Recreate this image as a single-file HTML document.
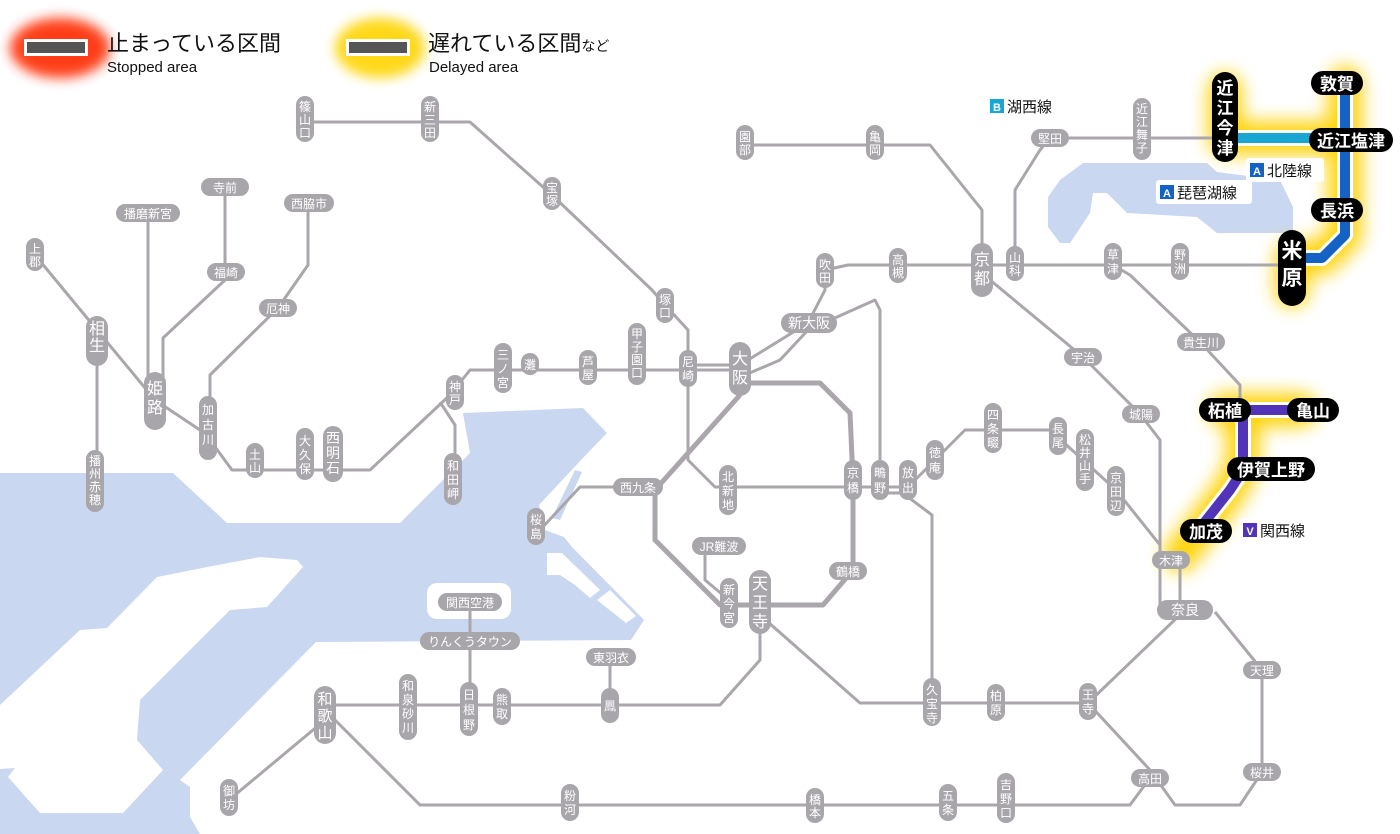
<!DOCTYPE html>
<html><head><meta charset="utf-8"><style>
html,body{margin:0;padding:0;background:#fff;}
svg{display:block;font-family:"Liberation Sans","Noto Sans CJK JP",sans-serif;}
.ln{fill:none;stroke:#aaa6ac;stroke-width:3;stroke-linejoin:round;}
.lt{fill:none;stroke:#aaa6ac;stroke-width:5;stroke-linejoin:round;}
.p{fill:#a9a6ab;}
.t{fill:#fff;font-size:12px;text-anchor:middle;}
.T{fill:#fff;font-size:16px;text-anchor:middle;}
.b{fill:#000;}
.bt{fill:#fff;font-size:17px;font-weight:bold;text-anchor:middle;}
.lg{font-size:15px;fill:#111;}
</style></head><body>
<svg width="1400" height="834" viewBox="0 0 1400 834" xmlns="http://www.w3.org/2000/svg">
<defs>
<filter id="gl" x="-50%" y="-50%" width="200%" height="200%"><feGaussianBlur stdDeviation="9"/></filter>
<filter id="gs" x="-50%" y="-50%" width="200%" height="200%"><feGaussianBlur stdDeviation="6"/></filter>
</defs>
<!-- sea -->
<polygon fill="#cad7f0" points="0,473 173,473 227,523 400,523 470,453 463,413 583,408 607,433 581,460 539,505 545,530 564,537 572,547 644,620 631,640 316,642 180,780 190,787 190,817 200,834 0,834"/>
<polygon fill="#fff" points="0,705 80,630 107,628 157,577 207,567 260,557 297,560 303,567 267,607 230,610 140,700 137,740 163,770 123,813 40,813 8,777 15,768 0,769"/>
<rect x="427" y="583" width="84" height="36" rx="10" fill="#fff"/>
<polygon fill="#fff" points="547,553 562,553 600,590 590,598 575,585 560,575 547,575"/>
<polygon fill="#fff" points="597,600 610,590 636,616 626,623"/>
<polygon fill="#cad7f0" points="575,470 582,472 560,520 552,518"/>
<!-- lake -->
<polygon fill="#cad7f0" points="1083,163 1207,163 1217,172 1280,180 1293,207 1293,233 1217,233 1197,217 1127,213 1107,193 1093,193 1090,213 1070,243 1060,243 1048,227 1048,197 1060,180"/>

<!-- legend -->
<ellipse cx="60" cy="48" rx="50" ry="30" fill="#ff2a00" filter="url(#gs)" opacity="0.9"/>
<rect x="24" y="39" width="64" height="17" fill="#fff"/><rect x="27" y="42" width="58" height="11" fill="#555"/>
<text x="107" y="51" style="font-size:22px;fill:#111">止まっている区間</text>
<text x="107" y="72" class="lg">Stopped area</text>
<ellipse cx="380" cy="48" rx="45" ry="30" fill="#ffd400" filter="url(#gs)" opacity="0.9"/>
<rect x="346" y="39" width="64" height="17" fill="#fff"/><rect x="349" y="42" width="58" height="11" fill="#555"/>
<text x="428" y="51" style="font-size:22px;fill:#111">遅れている区間<tspan style="font-size:14px">など</tspan></text>
<text x="429" y="72" class="lg">Delayed area</text>

<!-- yellow glow -->
<g filter="url(#gl)" stroke="#ffd200" fill="none" stroke-width="34" stroke-linejoin="round" stroke-linecap="round" opacity="0.95">
<polyline points="1225,90 1225,138 1345,138"/>
<polyline points="1345,83 1345,235 1322,258 1292,258 1292,290"/>
<polyline points="1225,410 1300,410"/>
<polyline points="1243,410 1243,465 1230,490 1200,530 1180,555"/>
</g>

<!-- grey lines -->
<polyline class="ln" points="305,122 470,122 552,195 652,290 665,305 688,330 688,368"/>
<polyline class="ln" points="35,255 97,330 155,400 200,430 210,440 232,470 370,470 450,395 470,370 740,370"/>
<polyline class="ln" points="97,340 97,470"/>
<polyline class="ln" points="148,213 148,395"/>
<polyline class="ln" points="225,187 225,280 163,338 163,395"/>
<polyline class="ln" points="308,203 308,265 278,308 210,375 210,420"/>
<polyline class="ln" points="440,402 455,425 455,470"/>
<polyline class="ln" points="688,365 740,365"/>
<polyline class="ln" points="740,365 808,323 825,290 825,270 848,265 1290,265"/>
<polyline class="ln" points="745,375 780,360 808,330 875,300 880,310 880,487"/>
<polyline class="lt" points="740,383 820,383 850,413 853,480 853,570 823,605 720,605 655,540 655,490 740,395"/>
<polyline class="ln" points="688,385 688,460 715,487 908,487"/>
<polyline class="ln" points="880,493 908,493"/>
<polyline class="ln" points="908,487 935,460 965,430 1050,430 1116,490 1160,545 1160,560"/>
<polyline class="ln" points="908,497 932,515 932,700"/>
<polyline class="ln" points="637,487 580,487 540,530"/>
<polyline class="ln" points="705,546 705,580 729,600"/>
<polyline class="ln" points="760,615 860,703 1088,703 1185,610"/>
<polyline class="ln" points="1088,703 1150,770 1175,805 1240,805 1262,772 1262,670 1215,612"/>
<polyline class="ln" points="760,630 760,660 720,705 325,705"/>
<polyline class="ln" points="470,602 470,700"/>
<polyline class="ln" points="610,657 610,700"/>
<polyline class="ln" points="325,720 235,795"/>
<polyline class="ln" points="335,720 420,805 1130,805 1150,778"/>
<polyline class="ln" points="982,265 982,210 930,145 745,145"/>
<polyline class="ln" points="990,280 1083,357 1140,414 1160,440 1160,610"/>
<polyline class="ln" points="1180,555 1180,600"/>
<polyline class="ln" points="1113,265 1130,275 1200,342 1240,385 1240,410"/>
<polyline class="ln" points="1015,265 1015,190 1040,150 1050,138 1225,138"/>

<!-- coloured lines -->
<polyline points="1225,138 1345,138" stroke="#fff" stroke-width="16" fill="none"/>
<polyline points="1225,138 1345,138" stroke="#1aa6d2" stroke-width="10" fill="none"/>
<polyline points="1345,83 1345,235 1322,258 1292,258" stroke="#fff" stroke-width="16" fill="none" stroke-linejoin="round"/>
<polyline points="1345,83 1345,235 1322,258 1292,258" stroke="#1462c4" stroke-width="10" fill="none" stroke-linejoin="round"/>
<polyline points="1225,410 1300,410" stroke="#fff" stroke-width="16" fill="none"/>
<polyline points="1243,410 1243,470 1230,490 1200,528" stroke="#fff" stroke-width="16" fill="none" stroke-linejoin="round"/>
<polyline points="1225,410 1300,410" stroke="#5234b8" stroke-width="10" fill="none"/>
<polyline points="1243,410 1243,470 1230,490 1200,528" stroke="#5234b8" stroke-width="10" fill="none" stroke-linejoin="round"/>

<!-- horizontal grey stations -->
<g>
<rect class="p" x="201" y="178" width="48" height="18" rx="9"/><text class="t" x="225" y="192">寺前</text>
<rect class="p" x="116" y="204" width="64" height="18" rx="9"/><text class="t" x="148" y="218">播磨新宮</text>
<rect class="p" x="284" y="194" width="50" height="18" rx="9"/><text class="t" x="309" y="208">西脇市</text>
<rect class="p" x="207" y="263" width="38" height="18" rx="9"/><text class="t" x="226" y="277">福崎</text>
<rect class="p" x="259" y="299" width="38" height="18" rx="9"/><text class="t" x="278" y="313">厄神</text>
<rect class="p" x="781" y="313" width="56" height="20" rx="10"/><text class="t" x="809" y="328" style="font-size:14px">新大阪</text>
<rect class="p" x="1064" y="348" width="38" height="18" rx="9"/><text class="t" x="1083" y="362">宇治</text>
<rect class="p" x="1177" y="333" width="48" height="18" rx="9"/><text class="t" x="1201" y="347">貴生川</text>
<rect class="p" x="1122" y="405" width="38" height="18" rx="9"/><text class="t" x="1141" y="419">城陽</text>
<rect class="p" x="1031" y="129" width="38" height="18" rx="9"/><text class="t" x="1050" y="143">堅田</text>
<rect class="p" x="613" y="478" width="50" height="18" rx="9"/><text class="t" x="638" y="492">西九条</text>
<rect class="p" x="692" y="537" width="54" height="18" rx="9"/><text class="t" x="719" y="551">JR難波</text>
<rect class="p" x="829" y="562" width="38" height="18" rx="9"/><text class="t" x="848" y="576">鶴橋</text>
<rect class="p" x="1152" y="551" width="38" height="18" rx="9"/><text class="t" x="1171" y="565">木津</text>
<rect class="p" x="1157" y="600" width="56" height="20" rx="10"/><text class="t" x="1185" y="615" style="font-size:14px">奈良</text>
<rect class="p" x="438" y="593" width="64" height="18" rx="9"/><text class="t" x="470" y="607">関西空港</text>
<rect class="p" x="420" y="632" width="100" height="18" rx="9"/><text class="t" x="470" y="646">りんくうタウン</text>
<rect class="p" x="586" y="648" width="50" height="18" rx="9"/><text class="t" x="611" y="662">東羽衣</text>
<rect class="p" x="1243" y="661" width="38" height="18" rx="9"/><text class="t" x="1262" y="675">天理</text>
<rect class="p" x="1131" y="769" width="38" height="18" rx="9"/><text class="t" x="1150" y="783">高田</text>
<rect class="p" x="1243" y="763" width="38" height="18" rx="9"/><text class="t" x="1262" y="777">桜井</text>
</g>

<!-- vertical grey stations -->
<g>
<rect class="p" x="296" y="96" width="18" height="46" rx="9"/><text class="t" x="305" y="111">篠<tspan x="305" dy="13">山</tspan><tspan x="305" dy="13">口</tspan></text>
<rect class="p" x="421" y="96" width="18" height="46" rx="9"/><text class="t" x="430" y="111">新<tspan x="430" dy="13">三</tspan><tspan x="430" dy="13">田</tspan></text>
<rect class="p" x="543" y="177" width="18" height="33" rx="9"/><text class="t" x="552" y="192">宝<tspan x="552" dy="13">塚</tspan></text>
<rect class="p" x="26" y="238" width="18" height="33" rx="9"/><text class="t" x="35" y="253">上<tspan x="35" dy="13">郡</tspan></text>
<rect class="p" x="86" y="316" width="22" height="50" rx="11"/><text class="T" x="97" y="334">相<tspan x="97" dy="17">生</tspan></text>
<rect class="p" x="144" y="372" width="22" height="58" rx="11"/><text class="T" x="155" y="394">姫<tspan x="155" dy="19">路</tspan></text>
<rect class="p" x="199" y="396" width="18" height="64" rx="9"/><text class="t" x="208" y="414">加<tspan x="208" dy="15">古</tspan><tspan x="208" dy="15">川</tspan></text>
<rect class="p" x="86" y="450" width="18" height="62" rx="9"/><text class="t" x="95" y="465">播<tspan x="95" dy="13">州</tspan><tspan x="95" dy="13">赤</tspan><tspan x="95" dy="13">穂</tspan></text>
<rect class="p" x="246" y="443" width="18" height="35" rx="9"/><text class="t" x="255" y="459">土<tspan x="255" dy="13">山</tspan></text>
<rect class="p" x="296" y="428" width="18" height="52" rx="9"/><text class="t" x="305" y="445">大<tspan x="305" dy="14">久</tspan><tspan x="305" dy="14">保</tspan></text>
<rect class="p" x="323" y="426" width="20" height="56" rx="10"/><text class="t" x="333" y="443" style="font-size:14px">西<tspan x="333" dy="15">明</tspan><tspan x="333" dy="15">石</tspan></text>
<rect class="p" x="446" y="375" width="18" height="35" rx="9"/><text class="t" x="455" y="391">神<tspan x="455" dy="13">戸</tspan></text>
<rect class="p" x="444" y="453" width="18" height="52" rx="9"/><text class="t" x="453" y="470">和<tspan x="453" dy="14">田</tspan><tspan x="453" dy="14">岬</tspan></text>
<rect class="p" x="494" y="343" width="18" height="50" rx="9"/><text class="t" x="503" y="359">三<tspan x="503" dy="14">ノ</tspan><tspan x="503" dy="14">宮</tspan></text>
<rect class="p" x="521" y="353" width="18" height="22" rx="9"/><text class="t" x="530" y="369">灘</text>
<rect class="p" x="579" y="350" width="18" height="35" rx="9"/><text class="t" x="588" y="366">芦<tspan x="588" dy="13">屋</tspan></text>
<rect class="p" x="628" y="323" width="18" height="62" rx="9"/><text class="t" x="637" y="338">甲<tspan x="637" dy="13">子</tspan><tspan x="637" dy="13">園</tspan><tspan x="637" dy="13">口</tspan></text>
<rect class="p" x="679" y="350" width="18" height="37" rx="9"/><text class="t" x="688" y="366">尼<tspan x="688" dy="14">崎</tspan></text>
<rect class="p" x="656" y="288" width="18" height="35" rx="9"/><text class="t" x="665" y="304">塚<tspan x="665" dy="13">口</tspan></text>
<rect class="p" x="729" y="342" width="22" height="54" rx="11"/><text class="T" x="740" y="364">大<tspan x="740" dy="19">阪</tspan></text>
<rect class="p" x="816" y="253" width="18" height="35" rx="9"/><text class="t" x="825" y="269">吹<tspan x="825" dy="13">田</tspan></text>
<rect class="p" x="889" y="248" width="18" height="35" rx="9"/><text class="t" x="898" y="264">高<tspan x="898" dy="13">槻</tspan></text>
<rect class="p" x="971" y="243" width="22" height="54" rx="11"/><text class="T" x="982" y="265">京<tspan x="982" dy="19">都</tspan></text>
<rect class="p" x="1006" y="246" width="18" height="35" rx="9"/><text class="t" x="1015" y="262">山<tspan x="1015" dy="13">科</tspan></text>
<rect class="p" x="1104" y="243" width="18" height="37" rx="9"/><text class="t" x="1113" y="259">草<tspan x="1113" dy="14">津</tspan></text>
<rect class="p" x="1171" y="243" width="18" height="37" rx="9"/><text class="t" x="1180" y="259">野<tspan x="1180" dy="14">洲</tspan></text>
<rect class="p" x="1133" y="98" width="18" height="62" rx="9"/><text class="t" x="1142" y="113">近<tspan x="1142" dy="13">江</tspan><tspan x="1142" dy="13">舞</tspan><tspan x="1142" dy="13">子</tspan></text>
<rect class="p" x="736" y="125" width="18" height="35" rx="9"/><text class="t" x="745" y="141">園<tspan x="745" dy="13">部</tspan></text>
<rect class="p" x="866" y="125" width="18" height="35" rx="9"/><text class="t" x="875" y="141">亀<tspan x="875" dy="13">岡</tspan></text>
<rect class="p" x="719" y="465" width="18" height="50" rx="9"/><text class="t" x="728" y="481">北<tspan x="728" dy="14">新</tspan><tspan x="728" dy="14">地</tspan></text>
<rect class="p" x="844" y="460" width="18" height="40" rx="9"/><text class="t" x="853" y="477">京<tspan x="853" dy="15">橋</tspan></text>
<rect class="p" x="871" y="460" width="18" height="40" rx="9"/><text class="t" x="880" y="477">鴫<tspan x="880" dy="15">野</tspan></text>
<rect class="p" x="899" y="460" width="18" height="40" rx="9"/><text class="t" x="908" y="477">放<tspan x="908" dy="15">出</tspan></text>
<rect class="p" x="926" y="440" width="18" height="40" rx="9"/><text class="t" x="935" y="457">徳<tspan x="935" dy="15">庵</tspan></text>
<rect class="p" x="984" y="403" width="18" height="50" rx="9"/><text class="t" x="993" y="419">四<tspan x="993" dy="14">条</tspan><tspan x="993" dy="14">畷</tspan></text>
<rect class="p" x="1049" y="417" width="18" height="38" rx="9"/><text class="t" x="1058" y="433">長<tspan x="1058" dy="14">尾</tspan></text>
<rect class="p" x="1076" y="429" width="18" height="62" rx="9"/><text class="t" x="1085" y="444">松<tspan x="1085" dy="13">井</tspan><tspan x="1085" dy="13">山</tspan><tspan x="1085" dy="13">手</tspan></text>
<rect class="p" x="1107" y="466" width="18" height="50" rx="9"/><text class="t" x="1116" y="482">京<tspan x="1116" dy="14">田</tspan><tspan x="1116" dy="14">辺</tspan></text>
<rect class="p" x="527" y="508" width="18" height="37" rx="9"/><text class="t" x="536" y="524">桜<tspan x="536" dy="14">島</tspan></text>
<rect class="p" x="720" y="578" width="18" height="50" rx="9"/><text class="t" x="729" y="594">新<tspan x="729" dy="14">今</tspan><tspan x="729" dy="14">宮</tspan></text>
<rect class="p" x="749" y="570" width="22" height="64" rx="11"/><text class="T" x="760" y="589">天<tspan x="760" dy="19">王</tspan><tspan x="760" dy="19">寺</tspan></text>
<rect class="p" x="923" y="678" width="18" height="48" rx="9"/><text class="t" x="932" y="694">久<tspan x="932" dy="14">宝</tspan><tspan x="932" dy="14">寺</tspan></text>
<rect class="p" x="987" y="684" width="18" height="37" rx="9"/><text class="t" x="996" y="700">柏<tspan x="996" dy="14">原</tspan></text>
<rect class="p" x="1079" y="683" width="18" height="37" rx="9"/><text class="t" x="1088" y="699">王<tspan x="1088" dy="14">寺</tspan></text>
<rect class="p" x="314" y="686" width="22" height="58" rx="11"/><text class="T" x="325" y="704" style="font-size:15px">和<tspan x="325" dy="17">歌</tspan><tspan x="325" dy="17">山</tspan></text>
<rect class="p" x="399" y="674" width="18" height="66" rx="9"/><text class="t" x="408" y="690">和<tspan x="408" dy="14">泉</tspan><tspan x="408" dy="14">砂</tspan><tspan x="408" dy="14">川</tspan></text>
<rect class="p" x="460" y="682" width="18" height="54" rx="9"/><text class="t" x="469" y="699">日<tspan x="469" dy="15">根</tspan><tspan x="469" dy="15">野</tspan></text>
<rect class="p" x="493" y="688" width="18" height="37" rx="9"/><text class="t" x="502" y="704">熊<tspan x="502" dy="14">取</tspan></text>
<rect class="p" x="601" y="688" width="18" height="35" rx="9"/><text class="t" x="610" y="710">鳳</text>
<rect class="p" x="220" y="779" width="18" height="37" rx="9"/><text class="t" x="229" y="795">御<tspan x="229" dy="14">坊</tspan></text>
<rect class="p" x="561" y="784" width="18" height="37" rx="9"/><text class="t" x="570" y="800">粉<tspan x="570" dy="14">河</tspan></text>
<rect class="p" x="806" y="788" width="18" height="35" rx="9"/><text class="t" x="815" y="804">橋<tspan x="815" dy="13">本</tspan></text>
<rect class="p" x="939" y="784" width="18" height="37" rx="9"/><text class="t" x="948" y="800">五<tspan x="948" dy="14">条</tspan></text>
<rect class="p" x="997" y="773" width="18" height="50" rx="9"/><text class="t" x="1006" y="789">吉<tspan x="1006" dy="14">野</tspan><tspan x="1006" dy="14">口</tspan></text>
</g>

<!-- black stations -->
<rect class="b" x="1311" y="71" width="52" height="24" rx="12"/><text class="bt" x="1337" y="90">敦賀</text>
<rect class="b" x="1309" y="128" width="84" height="24" rx="12"/><text class="bt" x="1351" y="147">近江塩津</text>
<rect class="b" x="1311" y="198" width="52" height="24" rx="12"/><text class="bt" x="1337" y="217">長浜</text>
<rect class="b" x="1278" y="230" width="28" height="76" rx="14"/><text class="T" x="1292" y="258" style="font-size:21px;font-weight:bold">米<tspan x="1292" dy="27">原</tspan></text>
<rect class="b" x="1212" y="72" width="26" height="90" rx="13"/><text class="bt" x="1225" y="94">近<tspan x="1225" dy="20">江</tspan><tspan x="1225" dy="20">今</tspan><tspan x="1225" dy="20">津</tspan></text>
<rect class="b" x="1199" y="398" width="52" height="24" rx="12"/><text class="bt" x="1225" y="417">柘植</text>
<rect class="b" x="1287" y="398" width="52" height="24" rx="12"/><text class="bt" x="1313" y="417">亀山</text>
<rect class="b" x="1227" y="457" width="88" height="24" rx="12"/><text class="bt" x="1271" y="476">伊賀上野</text>
<rect class="b" x="1180" y="519" width="52" height="24" rx="12"/><text class="bt" x="1206" y="538">加茂</text>

<!-- line labels -->
<rect x="986" y="94" width="80" height="24" rx="3" fill="#fff"/><rect x="990" y="99" width="14" height="14" fill="#1aa6d2"/><text x="997" y="111" style="font-size:11px;fill:#fff;text-anchor:middle;font-weight:bold">B</text><text x="1007" y="112" style="font-size:15px;fill:#111">湖西線</text>
<rect x="1246" y="158" width="78" height="24" rx="3" fill="#fff"/><rect x="1250" y="163" width="14" height="14" fill="#1462c4"/><text x="1257" y="175" style="font-size:11px;fill:#fff;text-anchor:middle;font-weight:bold">A</text><text x="1267" y="176" style="font-size:15px;fill:#111">北陸線</text>
<rect x="1156" y="180" width="96" height="24" rx="3" fill="#fff"/><rect x="1160" y="185" width="14" height="14" fill="#1462c4"/><text x="1167" y="197" style="font-size:11px;fill:#fff;text-anchor:middle;font-weight:bold">A</text><text x="1177" y="198" style="font-size:15px;fill:#111">琵琶湖線</text>
<rect x="1239" y="518" width="76" height="24" rx="3" fill="#fff"/><rect x="1243" y="523" width="14" height="14" fill="#5234b8"/><text x="1250" y="535" style="font-size:11px;fill:#fff;text-anchor:middle;font-weight:bold">V</text><text x="1260" y="536" style="font-size:15px;fill:#111">関西線</text>
</svg>
</body></html>
